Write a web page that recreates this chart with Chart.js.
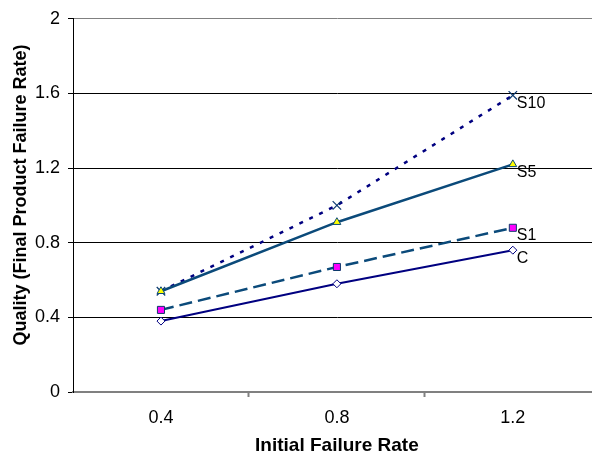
<!DOCTYPE html>
<html>
<head>
<meta charset="utf-8">
<script src="https://cdn.jsdelivr.net/npm/chart.js@4/dist/chart.umd.min.js"></script>
<style>
  html, body { margin: 0; padding: 0; background: #fff; overflow: hidden; }
  canvas { display: block; }
</style>
</head>
<body>
<canvas id="chart" width="608" height="462"></canvas>
<script>
// values
const INITIAL_RATE = [0.4, 0.8, 1.2];
const C = [0.38, 0.58, 0.76];
const S1 = [0.44, 0.67, 0.88];
const S5 = [0.54, 0.91, 1.22];
const S10 = [0.54, 1.0, 1.59];
const SERIES_NAMES = ['C', 'S1', 'S5', 'S10'];
const X_TICKS = [0.2, 0.4, 0.6, 0.8, 1.0, 1.2, 1.4];
const X_LABELS = [0.4, 0.8, 1.2];
const X_TITLE = 'Initial Failure Rate';
const Y_TITLE = 'Quality (Final Product Failure Rate)';

const FONT = 'Liberation Sans, Arial, sans-serif';

const toPoints = (vals) => vals.map((v, i) => ({ x: INITIAL_RATE[i], y: v }));

// series name next to the last point of each line
const endLabels = {
  id: 'endLabels',
  afterDatasetsDraw(chart) {
    const { ctx } = chart;
    ctx.save();
    ctx.font = '16px ' + FONT;
    ctx.fillStyle = '#000';
    ctx.textAlign = 'left';
    ctx.textBaseline = 'middle';
    chart.data.datasets.forEach((ds, i) => {
      const pts = chart.getDatasetMeta(i).data;
      const last = pts[pts.length - 1];
      ctx.fillText(ds.label, last.x + 4, last.y + 8);
    });
    ctx.restore();
  }
};

// axis titles, placed like the original
const axisTitles = {
  id: 'axisTitles',
  afterDraw(chart) {
    const { ctx, chartArea } = chart;
    ctx.save();
    ctx.fillStyle = '#000';
    ctx.textAlign = 'center';
    ctx.textBaseline = 'middle';
    ctx.font = 'bold 19px ' + FONT;
    ctx.fillText(X_TITLE, (chartArea.left + chartArea.right) / 2, 446);
    ctx.translate(21, 195);
    ctx.rotate(-Math.PI / 2);
    ctx.font = 'bold 18px ' + FONT;
    ctx.fillText(Y_TITLE, 0, 0);
    ctx.restore();
  }
};

new Chart(document.getElementById('chart'), {
  type: 'line',
  data: {
    datasets: [
      {
        label: SERIES_NAMES[0],
        data: toPoints(C),
        borderColor: '#000080',
        borderWidth: 2,
        pointStyle: 'rectRot',
        pointRadius: 4,
        pointBackgroundColor: '#fff',
        pointBorderColor: '#000080',
        pointBorderWidth: 1
      },
      {
        label: SERIES_NAMES[1],
        data: toPoints(S1),
        borderColor: '#0b4a7a',
        borderWidth: 2.5,
        borderDash: [13, 6],
        pointStyle: 'rect',
        pointRadius: 5,
        pointBackgroundColor: '#ff00ff',
        pointBorderColor: '#0b3a6a',
        pointBorderWidth: 1
      },
      {
        label: SERIES_NAMES[2],
        data: toPoints(S5),
        borderColor: '#0b4a7a',
        borderWidth: 2.5,
        pointStyle: 'triangle',
        pointRadius: 4.5,
        pointBackgroundColor: '#ffff00',
        pointBorderColor: '#0b4a7a',
        pointBorderWidth: 1
      },
      {
        label: SERIES_NAMES[3],
        data: toPoints(S10),
        borderColor: '#000080',
        borderWidth: 2.5,
        borderDash: [4, 7],
        pointStyle: 'crossRot',
        pointRadius: 6,
        pointBorderColor: '#0b3a70',
        pointBorderWidth: 1.2
      }
    ]
  },
  options: {
    responsive: false,
    animation: false,
    layout: { padding: { top: 11, right: 0, left: 0, bottom: 0 } },
    elements: { line: { tension: 0 } },
    plugins: {
      legend: { display: false },
      tooltip: { enabled: false }
    },
    scales: {
      x: {
        type: 'linear',
        min: 0.2,
        max: 1.4,
        afterBuildTicks(scale) {
          scale.ticks = X_TICKS.map(v => ({ value: v }));
        },
        afterFit(scale) {
          scale.height = 70;
          scale.paddingLeft = 0;
          scale.paddingRight = 0;
        },
        grid: {
          drawOnChartArea: false,
          drawTicks: true,
          tickLength: 5,
          tickColor: (c) => (c.tick && (c.tick.value === 0.6 || c.tick.value === 1.0)) ? '#808080' : 'rgba(0,0,0,0)',
          tickWidth: 2
        },
        border: { color: '#808080', width: 2 },
        ticks: {
          autoSkip: false,
          maxRotation: 0,
          padding: 10,
          color: '#000',
          font: { family: FONT, size: 18 },
          callback: (v) => X_LABELS.includes(v) ? v.toFixed(1) : ''
        }
      },
      y: {
        min: 0,
        max: 2,
        afterFit(scale) { scale.width = 73; },
        ticks: {
          stepSize: 0.4,
          padding: 8,
          color: '#000',
          font: { family: FONT, size: 18 },
          callback: (v) => String(Number(v.toFixed(1)))
        },
        grid: {
          color: (c) => {
            const v = c.tick ? c.tick.value : 0;
            if (v === 0) return 'rgba(0,0,0,0)';
            if (Math.abs(v - 2) < 1e-9) return '#808080';
            return '#000';
          },
          tickColor: '#000',
          tickLength: 5,
          lineWidth: 1
        },
        border: { color: '#000', width: 1 }
      }
    }
  },
  plugins: [endLabels, axisTitles]
});
</script>
</body>
</html>
